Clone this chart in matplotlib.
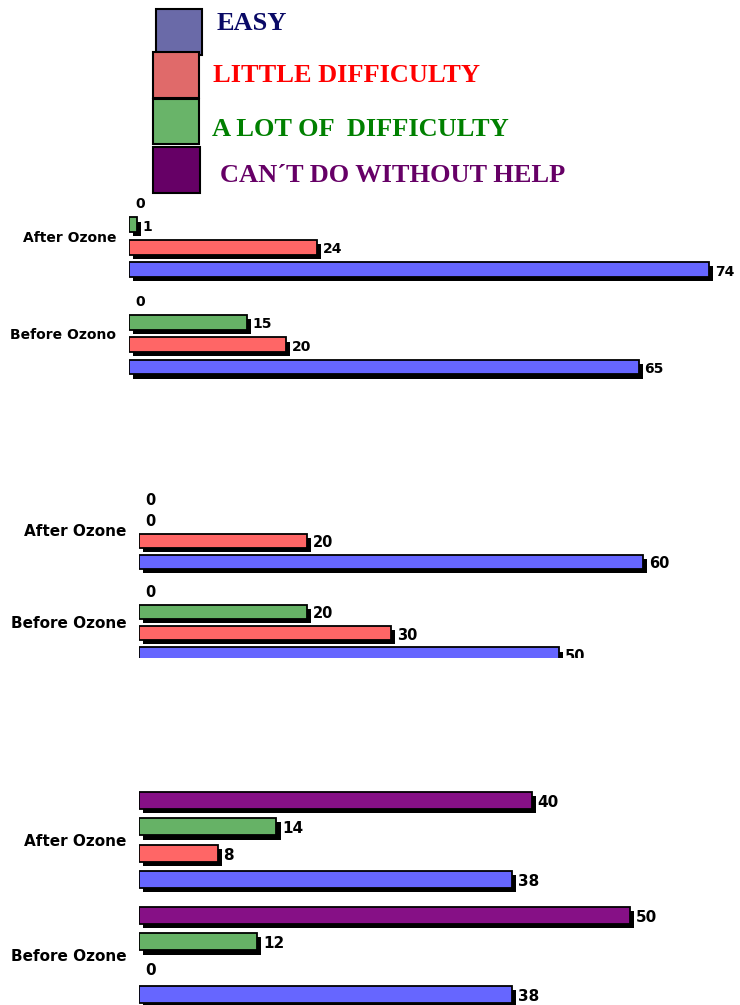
import matplotlib
matplotlib.use("Agg")
import matplotlib.pyplot as plt
import matplotlib.patheffects as pe
import matplotlib.transforms as mtransforms
from matplotlib.patches import Rectangle


series = ["EASY", "LITTLE DIFFICULTY", "A LOT OF  DIFFICULTY", "CAN\u00b4T DO WITHOUT HELP"]

top_groups = ["After Ozone", "Before Ozono"]
top_easy = [74, 65]
top_little = [24, 20]
top_alot = [1, 15]
top_cant = [0, 0]

mid_groups = ["After Ozone", "Before Ozone"]
mid_easy = [60, 50]
mid_little = [20, 30]
mid_alot = [0, 20]
mid_cant = [0, 0]

bot_groups = ["After Ozone", "Before Ozone"]
bot_easy = [38, 38]
bot_little = [8, 0]
bot_alot = [14, 12]
bot_cant = [40, 50]

bar_colors = ["#6666FF", "#FF6666", "#66B266", "#861086"]
legend_fill = ["#6A6AA8", "#E06A6A", "#69B469", "#660066"]
legend_text = ["#0A0A66", "#FF0000", "#008000", "#660066"]

W, H = 740, 1005
fig = plt.figure(figsize=(W / 100, H / 100), dpi=100)

slot = 0.23
offsets = [1.5 * slot, 0.5 * slot, -0.5 * slot, -1.5 * slot]


def panel(top, bottom, left, center, unit, px_per_val, groups, values,
          tick_fs, val_fs, clip):
    ax = fig.add_axes([left / W, 1 - bottom / H, (W - left) / W, (bottom - top) / H])
    ax.set_xlim(0, (W - left) / px_per_val)
    ax.set_ylim((bottom - center) / unit, (top - center) / unit)
    trans = mtransforms.offset_copy(ax.transData, fig=fig, x=6, y=-2, units="dots")
    for k, vals in enumerate(values):
        ys = [i + offsets[k] for i in range(len(groups))]
        ax.barh(
            ys, vals, height=0.15,
            color=bar_colors[k],
            edgecolor="black",
            linewidth=[1.3 if v else 0 for v in vals],
            path_effects=[
                pe.SimplePatchShadow(offset=(3, -3), shadow_rgbFace="black", alpha=1),
                pe.Normal(),
            ],
        )
        for y, v in zip(ys, vals):
            ax.text(v, y, str(v), transform=trans, ha="left", va="center",
                    fontsize=val_fs, fontweight="bold", clip_on=clip)
    ax.set_yticks(range(len(groups)))
    ax.set_yticklabels(groups, fontsize=tick_fs, fontweight="bold")
    ax.tick_params(axis="y", length=0, pad=9)
    ax.set_xticks([])
    for s in ax.spines.values():
        s.set_visible(False)
    ax.patch.set_visible(False)
    return ax


panel(190, 390, 129, 236, 97.5, 7.84, top_groups,
      [top_easy, top_little, top_alot, top_cant], 10, 10, False)
panel(485, 658, 139, 530, 92.5, 8.4, mid_groups,
      [mid_easy, mid_little, mid_alot, mid_cant], 11, 10.5, True)
panel(780, 1005, 139, 840, 115, 9.82, bot_groups,
      [bot_easy, bot_little, bot_alot, bot_cant], 11, 11, False)

# legend drawn as boxes with coloured captions
boxes = [(156, 9, 46, 46), (153, 52, 46, 46), (153, 99, 46, 45), (153, 147, 47, 46)]
captions = [(217, 24), (213, 75), (212, 129), (220, 176)]
for k in range(4):
    x, y, w, h = boxes[k]
    fig.add_artist(Rectangle((x / W, 1 - (y + h) / H), w / W, h / H,
                             transform=fig.transFigure,
                             facecolor=legend_fill[k], edgecolor="black", linewidth=1.5))
    tx, ty = captions[k]
    fig.text(tx / W, 1 - ty / H, series[k], color=legend_text[k],
             fontsize=19, fontweight="bold", family="Liberation Serif",
             ha="left", va="center")

fig.savefig("out.png", dpi=100)
plt.close(fig)
